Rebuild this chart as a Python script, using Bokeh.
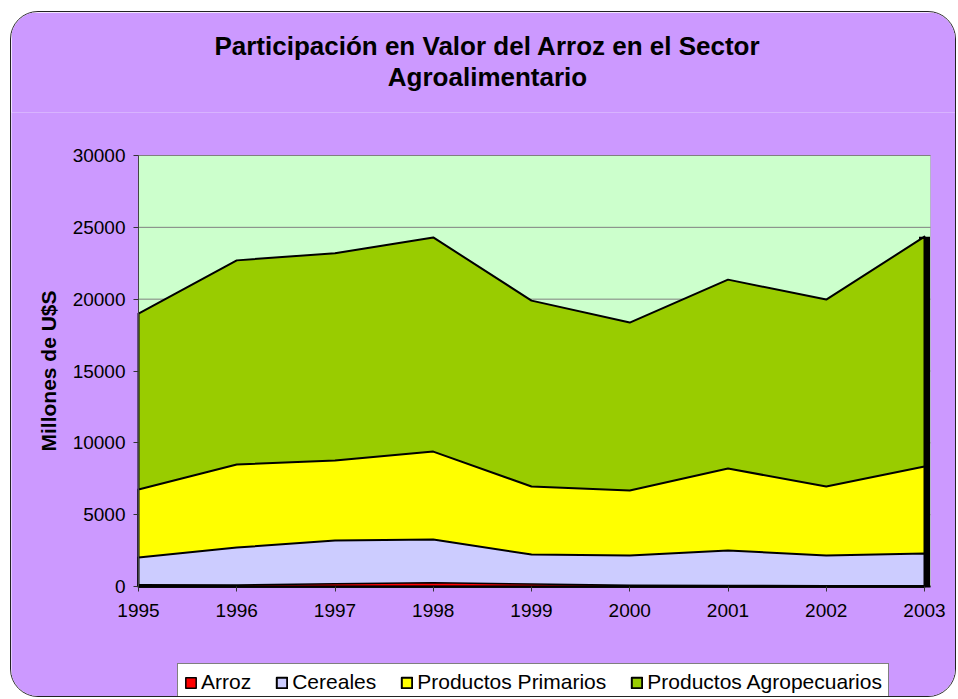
import math
from bokeh.plotting import figure
from bokeh.models import (Range1d, Legend, LegendItem, Label, ColumnDataSource, FixedTicker,
                          Segment, BoxAnnotation)
from bokeh.embed import file_html
from bokeh.resources import INLINE

years = [1995, 1996, 1997, 1998, 1999, 2000, 2001, 2002, 2003]
arroz = [120, 110, 190, 260, 170, 90, 70, 50, 60]
cereales = [2020, 2710, 3200, 3270, 2230, 2160, 2500, 2160, 2300]
primarios = [6750, 8490, 8770, 9390, 6960, 6680, 8210, 6960, 8350]
agropecuarios = [19000, 22700, 23200, 24300, 19900, 18370, 21360, 19970, 24350]
series_names = ["Arroz", "Cereales", "Productos Primarios", "Productos Agropecuarios"]
title_lines = ["Participación en Valor del Arroz en el Sector", "Agroalimentario"]
y_title = "Millones de U$S"
y_ticks = [0, 5000, 10000, 15000, 20000, 25000, 30000]

colors = {"Arroz": "#FF0000", "Cereales": "#CCCCFF",
          "Productos Primarios": "#FFFF00", "Productos Agropecuarios": "#99CC00"}
values = {"Arroz": arroz, "Cereales": cereales,
          "Productos Primarios": primarios, "Productos Agropecuarios": agropecuarios}

FONT = "Liberation Sans"
PURPLE = "#CC99FF"

# layout (canvas pixels): the frame covers everything below the title band
W, H, TOP = 946, 686, 100
x0_px, xn_px, edge_px = 127, 913, 919      # 1995, 2003, right edge of plot area
ytop_px, y0_px = 143, 574                    # 30000 and 0
px_per_year = (xn_px - x0_px) / (years[-1] - years[0])
px_per_unit = (y0_px - ytop_px) / y_ticks[-1]
x_lo = years[0] - x0_px / px_per_year
x_hi = years[-1] + (W - xn_px) / px_per_year
x_edge = years[-1] + (edge_px - xn_px) / px_per_year
y_lo = -(H - y0_px) / px_per_unit
y_hi = y_ticks[-1] + (ytop_px - TOP) / px_per_unit

p = figure(width=W, height=H, output_backend="svg", toolbar_location=None,
           x_range=Range1d(x_lo, x_hi), y_range=Range1d(y_lo, y_hi),
           min_border_left=0, min_border_right=0, min_border_top=TOP, min_border_bottom=0,
           background_fill_color=PURPLE, border_fill_color=PURPLE,
           outline_line_color=None,
           styles={"border-radius": "28px", "border": "1px solid #222222", "overflow": "hidden",
                   "margin-left": "10px", "margin-top": "11px"})

# plot area
p.add_layout(BoxAnnotation(left=years[0], right=x_edge, bottom=y_ticks[0], top=y_ticks[-1],
                           fill_color="#CCFFCC", fill_alpha=1.0,
                           line_color="#808080", line_width=1, level="underlay"))

# horizontal grid lines
p.segment(x0=[years[0]] * len(y_ticks), x1=[x_edge] * len(y_ticks), y0=y_ticks, y1=y_ticks,
          line_color="#808080", line_width=1)

# shadow on right edge
src_sh = ColumnDataSource(dict(x0=[years[-1]], y0=[0], x1=[years[-1]], y1=[agropecuarios[-1]]))
p.add_glyph(src_sh, Segment(x0="x0", y0="y0", x1="x1", y1="y1", line_color="black", line_width=11))

renderers = {}
for name in reversed(series_names):
    vals = values[name]
    xs = years + years[::-1]
    ys = vals + [0] * len(vals)
    renderers[name] = p.patch(x=xs, y=ys, fill_color=colors[name], line_color="black",
                              line_width=2 if name != "Arroz" else 1.5, line_join="round")

p.xgrid.visible = False
p.ygrid.visible = False

p.xaxis.ticker = FixedTicker(ticks=years)
p.yaxis.ticker = FixedTicker(ticks=y_ticks)
p.xaxis.fixed_location = y_ticks[0]
p.yaxis.fixed_location = years[0]
p.xaxis.bounds = (years[0], x_edge)
p.yaxis.bounds = (y_ticks[0], y_ticks[-1])
for ax in (p.xaxis[0], p.yaxis[0]):
    ax.major_label_text_font = FONT
    ax.major_label_text_font_size = "19px"
    ax.major_label_text_color = "black"
    ax.major_tick_out = 5
    ax.major_tick_in = 0
    ax.minor_tick_out = 0
    ax.minor_tick_in = 0
    ax.major_tick_line_color = "#333333"
p.xaxis.axis_line_color = "black"
p.xaxis.axis_line_width = 2
p.yaxis.axis_line_color = "#444444"
p.xaxis.major_label_standoff = 12
p.yaxis.major_label_standoff = 8

# y axis title, centred on the 0..30000 span
p.add_layout(Label(x=37, y=H - (ytop_px + y0_px) / 2, x_units="screen", y_units="screen",
                   text=y_title, angle=math.pi / 2, text_align="center", text_baseline="middle",
                   text_font=FONT, text_font_style="bold", text_font_size="21px",
                   text_color="black"))

# title lines as labels in the top panel (first label's panel sits on the frame, ~28px tall)
title_y = [TOP - 33, TOP - 28 - 66]
for line, ty in zip(title_lines, title_y):
    p.add_layout(Label(x=476, y=ty, x_units="screen", y_units="screen", text=line,
                       text_align="center", text_baseline="middle", text_font=FONT,
                       text_font_style="bold", text_font_size="26px", text_color="black"),
                 "above")

legend = Legend(items=[LegendItem(label=n, renderers=[renderers[n]]) for n in series_names],
                orientation="horizontal", location=(166, -3),
                label_text_font=FONT, label_text_font_size="21px", label_text_color="black",
                glyph_width=13, glyph_height=13, label_standoff=4, spacing=24, padding=6,
                margin=0, border_line_color="black", border_line_width=1,
                background_fill_color="white", background_fill_alpha=1.0)
p.add_layout(legend)

open("out.html", "w").write(file_html(p, INLINE))
